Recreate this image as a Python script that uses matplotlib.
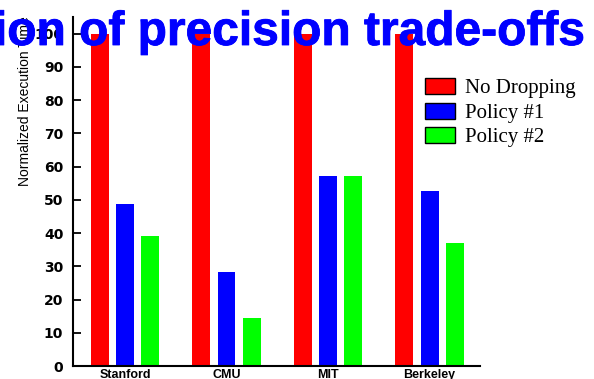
import matplotlib
matplotlib.use("Agg")
import matplotlib.pyplot as plt
import matplotlib.patheffects as pe
import numpy as np

categories = ["Stanford", "CMU", "MIT", "Berkeley"]
series_names = ["No Dropping", "Policy #1", "Policy #2"]
no_dropping = [100, 100, 100, 100]
policy1 = [48.8, 28.3, 57.2, 52.7]
policy2 = [39.2, 14.5, 57.2, 37.0]
colors = ["#ff0000", "#0000ff", "#00ff00"]
yticks = [0, 10, 20, 30, 40, 50, 60, 70, 80, 90, 100]

W, H = 594, 379
fig = plt.figure(figsize=(W / 100, H / 100), dpi=100)
ax = fig.add_axes([73 / W, 1 - 366 / H, (480 - 73) / W, (366 - 17) / H])

x = np.arange(len(categories))
bw = 0.177
off = 0.25
for i, (vals, c, name) in enumerate(zip([no_dropping, policy1, policy2], colors, series_names)):
    ax.bar(x + (i - 1) * off, vals, width=bw, color=c, label=name, edgecolor='none')

ax.set_xlim(-0.512, 3.497)
ax.set_ylim(0, 105)
ax.set_yticks(yticks)
ax.set_xticks(x)
ax.set_xticklabels(categories, fontfamily="Liberation Sans", fontweight="bold", fontsize=9)
ax.set_yticklabels([str(t) for t in yticks], fontfamily="DejaVu Sans", fontweight="bold", fontsize=10)
for s in ["top", "right"]:
    ax.spines[s].set_visible(False)
for s in ["left", "bottom"]:
    ax.spines[s].set_linewidth(1.5)
ax.tick_params(axis="y", direction="in", length=6, width=1.3, pad=7)
ax.tick_params(axis="x", length=0, pad=2)

fig.text(25 / W, 1 - 101 / H, "Normalized Execution Time", rotation=90,
         ha="center", va="center", fontfamily="Liberation Sans", fontsize=10)

handles = [plt.Rectangle((0, 0), 1, 1, facecolor=c, edgecolor="black", linewidth=1) for c in colors]
leg = fig.legend(handles, series_names, loc="upper left", bbox_to_anchor=(425 / W, 1 - 78 / H),
                 frameon=False, borderpad=0, borderaxespad=0,
                 prop={"family": "Liberation Serif", "size": 15},
                 handlelength=1.44, handleheight=0.82, handletextpad=0.48, labelspacing=0.2)

fig.text(585 / W, 1 - 45 / H, "Evaluation of precision trade-offs", ha="right", va="baseline",
         color="#0000ff", fontfamily="Liberation Sans", fontweight="bold", fontsize=34.5, zorder=10,
         path_effects=[pe.withStroke(linewidth=0.6, foreground="#0000ff")])

fig.savefig("out.png", dpi=100)
